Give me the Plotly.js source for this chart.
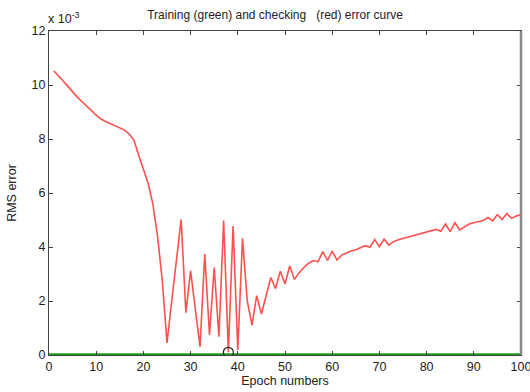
<!DOCTYPE html>
<html>
<head>
<meta charset="utf-8">
<script src="https://cdn.plot.ly/plotly-3.0.1.min.js"></script>
<style>html,body{margin:0;padding:0;background:#fff;}#chart{width:530px;height:392px;}</style>
</head>
<body>
<div id="chart"></div>
<script>
const epochs = [1,2,3,4,5,6,7,8,9,10,11,12,13,14,15,16,17,18,19,20,21,22,23,24,25,26,27,28,29,30,31,32,33,34,35,36,37,38,39,40,41,42,43,44,45,46,47,48,49,50,51,52,53,54,55,56,57,58,59,60,61,62,63,64,65,66,67,68,69,70,71,72,73,74,75,76,77,78,79,80,81,82,83,84,85,86,87,88,89,90,91,92,93,94,95,96,97,98,99,100];
const checkingError = [10.53,10.35,10.15,9.95,9.74,9.55,9.38,9.2,9.05,8.88,8.74,8.65,8.57,8.5,8.42,8.33,8.18,7.95,7.4,6.9,6.36,5.6,4.4,2.75,0.45,2.0,3.5,5.02,1.57,3.12,1.7,0.31,3.74,0.74,3.24,0.68,4.98,0.1,4.78,0.19,4.32,2.0,1.11,2.2,1.52,2.2,2.87,2.46,3.1,2.63,3.3,2.8,3.05,3.24,3.4,3.5,3.45,3.83,3.5,3.85,3.52,3.7,3.78,3.85,3.9,3.98,4.05,3.99,4.28,4.01,4.29,4.07,4.2,4.27,4.32,4.37,4.42,4.46,4.5,4.56,4.6,4.65,4.58,4.85,4.57,4.9,4.63,4.75,4.85,4.9,4.93,4.98,5.09,4.97,5.2,5.02,5.24,5.06,5.15,5.2];
const trainingError = [0.02,0.02,0.02,0.02,0.02,0.02,0.02,0.02,0.02,0.02,0.02,0.02,0.02,0.02,0.02,0.02,0.02,0.02,0.02,0.02,0.02,0.02,0.02,0.02,0.02,0.02,0.02,0.02,0.02,0.02,0.02,0.02,0.02,0.02,0.02,0.02,0.02,0.02,0.02,0.02,0.02,0.02,0.02,0.02,0.02,0.02,0.02,0.02,0.02,0.02,0.02,0.02,0.02,0.02,0.02,0.02,0.02,0.02,0.02,0.02,0.02,0.02,0.02,0.02,0.02,0.02,0.02,0.02,0.02,0.02,0.02,0.02,0.02,0.02,0.02,0.02,0.02,0.02,0.02,0.02,0.02,0.02,0.02,0.02,0.02,0.02,0.02,0.02,0.02,0.02,0.02,0.02,0.02,0.02,0.02,0.02,0.02,0.02,0.02,0.02];
const minEpoch = [38];
const minError = [0.1];
const xTicks = [0,10,20,30,40,50,60,70,80,90,100];
const yTicks = [0,2,4,6,8,10,12];

const family = 'Liberation Sans, Arial, sans-serif';
const tickFont = {family: family, size: 12.5, color: '#222'};
const labelFont = {family: family, size: 12.5, color: '#222'};

const traces = [
  {x: [0].concat(epochs), y: [0.02].concat(trainingError), mode: 'lines', line: {color: '#1a9e1a', width: 2.2}, hoverinfo: 'skip'},
  {x: epochs, y: checkingError, mode: 'lines', line: {color: '#ff5050', width: 1.6}, hoverinfo: 'skip'},
  {x: minEpoch, y: minError, mode: 'markers', marker: {symbol: 'circle-open', size: 10, color: '#222', line: {width: 1.2}}, hoverinfo: 'skip'}
];

const layout = {
  width: 530, height: 392,
  margin: {l: 49, r: 9, t: 31, b: 37},
  paper_bgcolor: '#fff', plot_bgcolor: '#fff',
  showlegend: false,
  font: tickFont,
  title: {text: 'Training (green) and checking \u00a0 (red) error curve', font: {family: family, size: 12, color: '#222'}, x: 0.519, xanchor: 'center', xref: 'container', y: 0.962, yanchor: 'middle', yref: 'container'},
  xaxis: {range: [0, 100], tickvals: xTicks, ticktext: xTicks.map(String), ticks: 'inside', ticklen: 4, tickcolor: '#444', showline: true, mirror: 'ticks', linecolor: '#444', linewidth: 1, showgrid: false, zeroline: false, tickfont: tickFont, ticklabeloverflow: 'allow', title: {text: 'Epoch numbers', font: labelFont, standoff: 1}},
  yaxis: {range: [0, 12], tickvals: yTicks, ticktext: yTicks.map(String), ticks: 'inside', ticklen: 4, tickcolor: '#444', showline: true, mirror: 'ticks', linecolor: '#444', linewidth: 1, showgrid: false, zeroline: false, tickfont: tickFont, title: {text: 'RMS error', font: labelFont, standoff: 12}},
  annotations: [
    {xref: 'paper', yref: 'paper', x: 0, y: 1, xanchor: 'left', yanchor: 'bottom', xshift: -3, yshift: 3, showarrow: false, text: 'x 10<sup>-3</sup>', font: tickFont}
  ],
  shapes: [
    {type: 'line', xref: 'paper', yref: 'paper', x0: 1, x1: 1, y0: 0, y1: 1, line: {color: '#888', width: 2.5}}
  ]
};

Plotly.newPlot('chart', traces, layout, {displayModeBar: false, staticPlot: true});
</script>
</body>
</html>
